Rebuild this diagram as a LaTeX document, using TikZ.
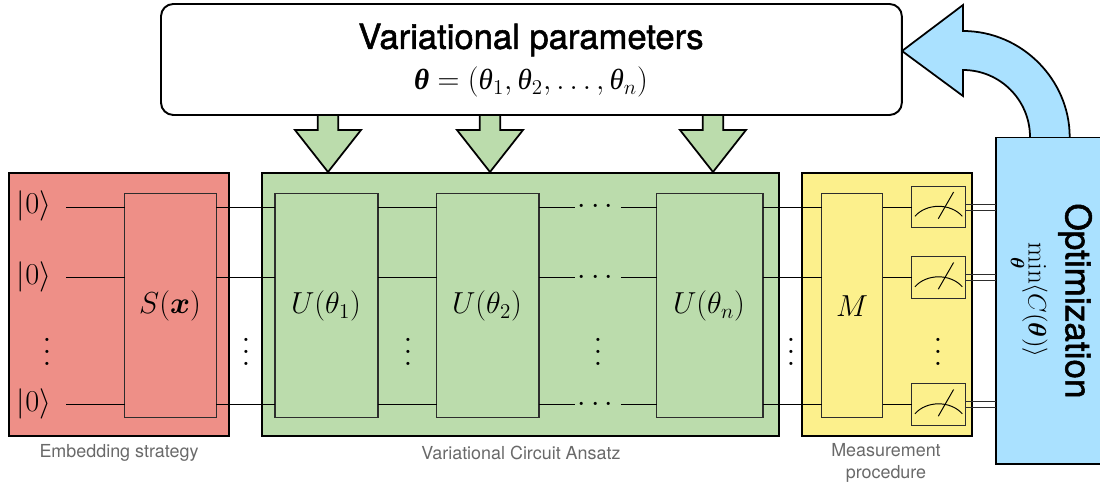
\documentclass[tikz,border=0pt]{standalone}
\usepackage{amsmath}
\usepackage{fontspec}
\usepackage{tikz}
\usetikzlibrary{calc}
\newfontfamily\sansfont{TeX Gyre Heros}
\newfontfamily\headfont[FakeBold=1.5]{TeX Gyre Heros}
\newfontfamily\timesfont{Liberation Serif}
\newcommand{\thetat}{\mbox{\timesfont\itshape θ}}
\newcommand{\thetab}{\mbox{\timesfont\bfseries\itshape θ}}
\definecolor{myred}{RGB}{238,143,135}
\definecolor{mygreen}{RGB}{187,220,172}
\definecolor{myyellow}{RGB}{252,240,140}
\definecolor{myblue}{RGB}{170,225,255}
\definecolor{mygrey}{RGB}{105,105,105}
\definecolor{mydark}{RGB}{45,45,45}
\tikzset{
  outerbox/.style={rectangle, draw=black, line width=1.1pt, inner sep=0pt, outer sep=0pt, anchor=north west},
  gatebox/.style={rectangle, draw=mydark, line width=0.6pt, inner sep=0pt, outer sep=0pt, anchor=north west,
    minimum height=4.48cm},
  gatelabel/.style={font=\fontsize{17.5}{21}\selectfont, inner sep=0pt},
  meterbox/.style={rectangle, draw=mydark, fill=myyellow, line width=0.6pt, inner sep=0pt, outer sep=0pt,
    minimum width=1.066cm, minimum height=0.83cm},
  ket/.style={font=\fontsize{16.5}{20}\selectfont, inner sep=0pt},
  wire/.style={line width=0.55pt, color=black},
  dblwire/.style={line width=0.55pt, color=mydark},
  dotsnode/.style={font=\fontsize{16}{19}\selectfont, inner sep=0pt, minimum width=0.9cm},
  vdotsnode/.style={font=\fontsize{10}{12}\selectfont, inner sep=0pt, scale=1.7},
  caption/.style={font=\sansfont\fontsize{10.2}{12.5}\selectfont, color=mygrey, align=center},
  fatarrow/.style={draw=black, line width=1pt, fill=mygreen, line join=miter}
}
\begin{document}
\begin{tikzpicture}[x=0.02cm, y=-0.02cm]
  \useasboundingbox (0,0) rectangle (1100,483);
  % Arrows out of the parameter box
  \foreach \ax in {328,490,713} {
    \draw[fatarrow] (\ax-10.3,110) -- (\ax-10.3,130) -- (\ax-33,130) -- (\ax,172)
      -- (\ax+33,130) -- (\ax+10.3,130) -- (\ax+10.3,110);
  }
  % Feedback arrow
  \draw[draw=black, line width=1pt, fill=myblue, line join=miter]
    (1030,142) -- (1030,137) .. controls (1030,100) and (1000,70) .. (963,70)
    -- (963,96) -- (902,51) -- (963,5) -- (963,31)
    .. controls (1022,31) and (1069.7,80) .. (1069.7,137) -- (1069.7,142);
  % Main boxes
  \node[outerbox, fill=white, rounded corners=7pt, minimum width=14.82cm, minimum height=2.22cm]
    (params) at (161,4) {};
  \node[font=\headfont\fontsize{19.7}{24}\selectfont, inner sep=0pt] (paramtitle) at (531,40) {Variational parameters};
  \node[font=\fontsize{16.6}{20}\selectfont, inner sep=0pt] (paramvec) at (531,82)
    {$\thetab = (\thetat_1, \thetat_2, \ldots, \thetat_n)$};
  \node[outerbox, fill=myred, minimum width=4.41cm, minimum height=5.26cm] (embed) at (9,173) {};
  \node[outerbox, fill=mygreen, minimum width=10.34cm, minimum height=5.26cm] (ansatz) at (262,173) {};
  \node[outerbox, fill=myyellow, minimum width=3.4cm, minimum height=5.26cm] (measure) at (802,173) {};
  \node[outerbox, fill=myblue, minimum width=2.4cm, minimum height=6.53cm] (optim) at (996,137.5) {};
  % Gates
  \node[gatebox, fill=myred, minimum width=1.84cm] (S) at (124.5,193.5) {};
  \node[gatelabel] (Slabel) at (170,306) {$S(\boldsymbol{x})$};
  \node[gatebox, fill=mygreen, minimum width=2.06cm] (U1) at (275,193.5) {};
  \node[gatelabel] (U1label) at (326,306) {$U(\theta_1)$};
  \node[gatebox, fill=mygreen, minimum width=2.05cm] (U2) at (436.5,193.5) {};
  \node[gatelabel] (U2label) at (487,306) {$U(\theta_2)$};
  \node[gatebox, fill=mygreen, minimum width=2.13cm] (Un) at (656.5,193.5) {};
  \node[gatelabel] (Unlabel) at (709,306) {$U(\theta_n)$};
  \node[gatebox, fill=myyellow, minimum width=1.22cm] (M) at (821.7,193.5) {};
  \node[gatelabel] (Mlabel) at (852,306) {$M$};
  % Qubit lines
  \foreach \i/\yy in {1/207,2/277.5,3/404.5} {
    \node[ket] (ket\i) at (34,\yy-1) {$|0\rangle$};
    \coordinate (w\i) at (66,\yy);
    \node[meterbox] (meter\i) at (938.6,\yy) {};
    \node[dotsnode] (dots\i) at (598,\yy) {$\cdots$};
    \draw[wire] (w\i) -- (w\i -| S.west);
    \draw[wire] (w\i -| S.east) -- (w\i -| U1.west);
    \draw[wire] (w\i -| U1.east) -- (w\i -| U2.west);
    \draw[wire] (w\i -| U2.east) -- (w\i -| dots\i.west);
    \draw[wire] (w\i -| dots\i.east) -- (w\i -| Un.west);
    \draw[wire] (w\i -| Un.east) -- (w\i -| M.west);
    \draw[wire] (w\i -| M.east) -- (w\i -| meter\i.west);
    % Classical output
    \draw[dblwire] ($(meter\i.east)+(0,-3)$) -- ($(meter\i.east -| optim.west)+(0,-3)$);
    \draw[dblwire] ($(meter\i.east)+(0,3)$) -- ($(meter\i.east -| optim.west)+(0,3)$);
    % Dial and needle
    \draw[wire] ($(meter\i)+(-23.7,9.3)$) .. controls ($(meter\i)+(-12,-4)$) and ($(meter\i)+(12,-4)$) .. ($(meter\i)+(23.7,9.3)$);
    \draw[wire] ($(meter\i)+(-0.3,11.7)$) -- ($(meter\i)+(15,-15)$);
  }
  % Vertical dots
  \foreach \nm/\vx in {a/47,b/246,c/408,d/598,e/791,f/938} {
    \node[vdotsnode] (vd\nm) at (\vx,343) {$\vdots$};
  }
  % Optimization labels
  \node[rotate=-90, font=\headfont\fontsize{20}{24}\selectfont, inner sep=0pt] (opttitle) at (1075,301) {Optimization};
  \node[rotate=-90, font=\fontsize{15.4}{18}\selectfont, inner sep=0pt] (optformula) at (1028,300)
    {$\displaystyle\min_{\boldsymbol{\theta}}\langle C(\boldsymbol{\theta})\rangle$};
  % Captions
  \node[caption] (embedcap) at (119,453) {Embedding strategy};
  \node[caption] (ansatzcap) at (521,453) {Variational Circuit Ansatz};
  \node[caption] (measurecap) at (886,463) {Measurement\\procedure};
\end{tikzpicture}
\end{document}
